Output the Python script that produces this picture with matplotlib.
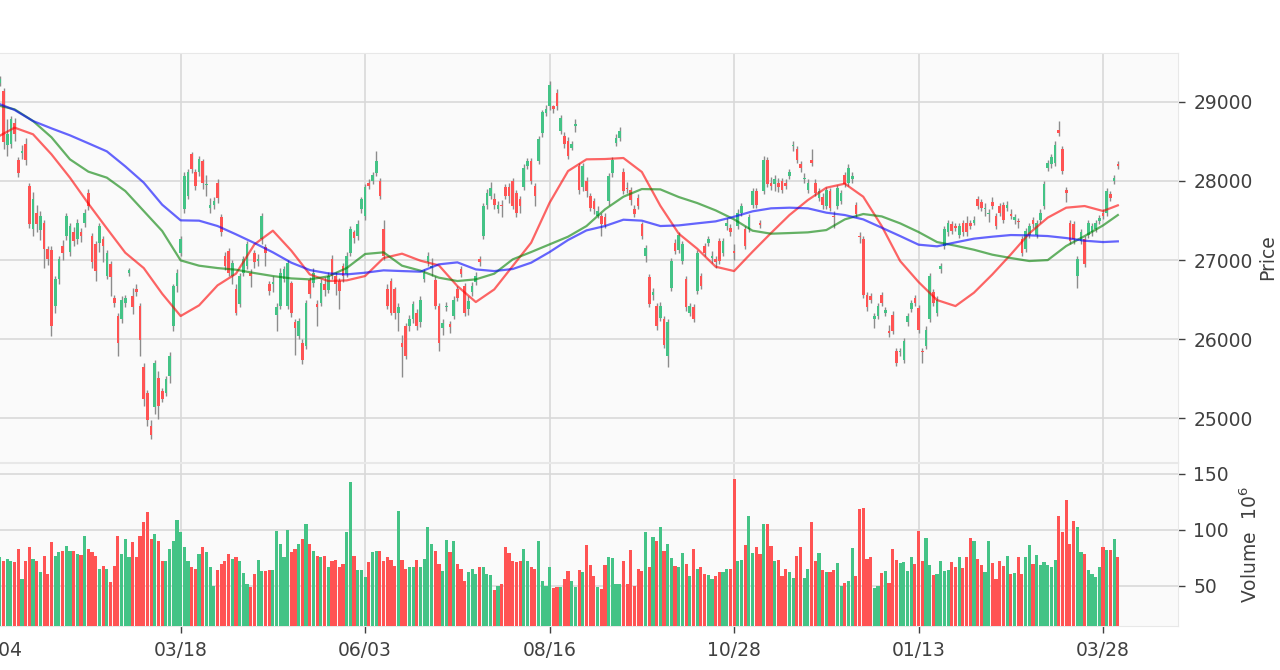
import numpy as np
import matplotlib
matplotlib.use("Agg")
import matplotlib.pyplot as plt


# ============================================================
# Data
# ============================================================

TICK_BARS = [0, 50, 100, 150, 200, 250, 300]
TICK_LABELS = ["01/04", "03/18", "06/03", "08/16", "10/28", "01/13", "03/28"]

PRICE_TICKS = [25000, 26000, 27000, 28000, 29000]
VOLUME_TICKS = [50, 100, 150]

opens = [
    29000, 29240, 29140, 28450, 28470, 28740, 28270, 28350, 28470, 27940,
    27390, 27600, 27380, 27470, 27140, 27130, 26420, 26760, 27180, 27300,
    27100, 27350, 27260, 27350, 27470, 27850, 27300, 27200, 27220, 27260,
    26800, 26950, 26520, 26290, 26250, 26460, 26840, 26540, 26630, 26420,
    25640, 25320, 24900, 25140, 25510, 25340, 25320, 25530, 26160, 26670,
    27090, 27640, 27810, 28340, 28110, 28110, 28250, 27950, 27660, 27690,
    27980, 27540, 27050, 27110, 26800, 26630, 26440, 26840, 26920, 26840,
    27090, 26990, 27260, 27160, 26690, 26700, 26310, 26420, 26760, 26420,
    26710, 26210, 26040, 25950, 25910, 26750, 26710, 26440, 26460, 26700,
    26620, 27010, 26800, 26730, 26920, 26820, 27090, 27350, 27300, 27640,
    27560, 27980, 28000, 28100, 28000, 27390, 26630, 26730, 26630, 26330,
    25950, 26160, 26170, 26250, 26330, 26210, 26760, 26970, 26900, 26750,
    26420, 26140, 26400, 26190, 26290, 26630, 26880, 26670, 26380, 26590,
    26720, 27010, 27300, 27690, 27810, 27770, 27640, 27700, 27920, 27930,
    28000, 27850, 27770, 27920, 28190, 28250, 27940, 28250, 28610, 28860,
    28950, 28950, 29120, 28630, 28570, 28510, 28420, 28700, 28190, 27920,
    28000, 27810, 27750, 27560, 27560, 27550, 27750, 28100, 28480, 28550,
    28120, 27910, 27880, 27640, 27790, 27450, 27050, 26780, 26560, 26420,
    26270, 26250, 25790, 26650, 27220, 27130, 26990, 26760, 26330, 26400,
    26610, 26800, 27180, 27220, 27030, 27010, 27240, 27090, 27430, 27410,
    27110, 27430, 27600, 27390, 27390, 27700, 27870, 27470, 27870, 28270,
    27980, 27960, 27980, 28000, 27980, 28060, 28440, 28400, 28210, 28030,
    27890, 28270, 27980, 27790, 27800, 27680, 27870, 27560, 27680, 27750,
    28080, 27980, 28020, 27700, 27310, 27260, 26560, 26540, 26250, 26290,
    26560, 26330, 26100, 26310, 25850, 25830, 25740, 26210, 26380, 26520,
    26390, 25850, 25910, 26250, 26590, 26330, 26880, 27180, 27350, 27450,
    27430, 27320, 27470, 27470, 27470, 27470, 27770, 27730, 27640, 27580,
    27730, 27560, 27680, 27700, 27660, 27580, 27500, 27490, 27260, 27140,
    27320, 27510, 27320, 27510, 27680, 28170, 28210, 28230, 28650, 28400,
    27890, 27470, 27450, 26800, 27240, 27260, 27320, 27350, 27390, 27490,
    27600, 27600, 27830, 28000, 28210,
]

highs = [
    29250, 29330, 29180, 28780, 28820, 28800, 28300, 28450, 28540, 27980,
    27860, 27700, 27620, 27500, 27180, 27180, 26800, 27050, 27250, 27600,
    27470, 27420, 27520, 27400, 27640, 27900, 27340, 27240, 27470, 27300,
    27130, 26990, 26560, 26330, 26540, 26560, 26900, 26640, 26700, 26450,
    25700, 25360, 24980, 25740, 25600, 25380, 25530, 25830, 26700, 26880,
    27300, 28120, 28150, 28370, 28150, 28320, 28280, 28080, 27780, 27800,
    28020, 27580, 27100, 27150, 27000, 26700, 26840, 27050, 27240, 26880,
    27130, 27080, 27600, 27200, 26730, 26800, 26450, 26900, 26920, 27000,
    26740, 26250, 26270, 26000, 26500, 26790, 26900, 26500, 26760, 26780,
    26850, 27060, 26850, 26770, 26960, 27100, 27430, 27380, 27500, 27800,
    27960, 28020, 28120, 28380, 28040, 27500, 26700, 26770, 26660, 26450,
    26050, 26200, 26300, 26480, 26380, 26540, 26880, 27100, 27020, 26800,
    26450, 26250, 26470, 26230, 26540, 26670, 26920, 26710, 26540, 26720,
    26850, 27050, 27720, 27900, 27990, 27850, 27750, 27760, 27960, 27970,
    28040, 27880, 27810, 28210, 28290, 28290, 27980, 28570, 28900, 28960,
    29260, 28960, 29160, 28840, 28620, 28560, 28510, 28780, 28230, 28230,
    28050, 27850, 27790, 27680, 27590, 27600, 28100, 28300, 28600, 28680,
    28160, 27990, 27920, 27690, 27830, 27480, 27190, 26820, 26640, 26460,
    26470, 26290, 26250, 27030, 27260, 27360, 27240, 26800, 26460, 26440,
    27130, 26840, 27220, 27300, 27120, 27050, 27280, 27280, 27530, 27450,
    27200, 27640, 27720, 27430, 27580, 27910, 27910, 27500, 28320, 28310,
    28050, 28080, 28040, 28040, 28020, 28150, 28500, 28440, 28250, 28100,
    28020, 28400, 28020, 27910, 27850, 27930, 27910, 27620, 27950, 27890,
    28120, 28210, 28110, 27740, 27360, 27300, 26600, 26580, 26330, 26460,
    26600, 26410, 26180, 26350, 25890, 25890, 26010, 26330, 26500, 26560,
    26430, 25890, 26170, 26840, 26630, 26540, 26960, 27430, 27510, 27490,
    27470, 27470, 27510, 27560, 27510, 27560, 27810, 27770, 27720, 27650,
    27800, 27600, 27720, 27740, 27750, 27640, 27580, 27530, 27300, 27410,
    27470, 27550, 27510, 27640, 28000, 28270, 28340, 28500, 28760, 28440,
    27930, 27510, 27490, 27050, 27390, 27300, 27510, 27470, 27510, 27570,
    27640, 27910, 27870, 28080, 28250,
]

lows = [
    28900, 29200, 28400, 28320, 28420, 28500, 28050, 28280, 28200, 27400,
    27300, 27350, 27250, 26900, 26940, 26040, 26330, 26700, 27000, 27250,
    27050, 27180, 27200, 27230, 27420, 27630, 26900, 26730, 27100, 26980,
    26760, 26540, 26400, 25790, 26200, 26400, 26800, 26320, 26540, 25780,
    25150, 24900, 24730, 25050, 24990, 25200, 25280, 25440, 26100, 26600,
    27050, 27600, 27770, 28100, 27880, 28060, 27900, 27810, 27600, 27650,
    27720, 27300, 26870, 26800, 26700, 26300, 26400, 26800, 26880, 26660,
    26900, 26920, 27200, 26920, 26560, 26600, 26100, 26380, 26720, 26380,
    26280, 25800, 26000, 25680, 25870, 26520, 26660, 26170, 26420, 26550,
    26580, 26760, 26560, 26380, 26720, 26780, 27050, 27220, 27250, 27600,
    27500, 27900, 27960, 28060, 27770, 27000, 26380, 26300, 26250, 26100,
    25520, 25750, 26100, 26200, 26120, 26150, 26720, 26930, 26800, 26380,
    25850, 26050, 26350, 26080, 26250, 26480, 26780, 26290, 26300, 26550,
    26680, 26920, 27260, 27650, 27770, 27650, 27600, 27540, 27770, 27720,
    27640, 27540, 27600, 27880, 28150, 27960, 27680, 28220, 28560, 28820,
    28900, 28860, 28900, 28600, 28420, 28280, 28390, 28620, 27840, 27870,
    27800, 27620, 27580, 27530, 27300, 27400, 27700, 28050, 28440, 28500,
    27830, 27850, 27700, 27540, 27640, 27260, 26980, 26400, 26500, 26120,
    26230, 25880, 25640, 26610, 27070, 27090, 26950, 26360, 26290, 26210,
    26570, 26630, 27050, 27180, 26960, 26900, 26950, 27050, 27380, 27300,
    27000, 27390, 27560, 27140, 27350, 27660, 27660, 27400, 27830, 27920,
    27880, 27870, 27860, 27850, 27900, 28020, 28380, 28230, 28120, 27980,
    27850, 28190, 27810, 27750, 27650, 27640, 27620, 27400, 27640, 27710,
    27920, 27940, 27980, 27540, 27220, 26520, 26360, 26460, 26140, 26250,
    26420, 26290, 26020, 26060, 25660, 25790, 25700, 26170, 26340, 26420,
    26080, 25700, 25870, 26210, 26420, 26290, 26840, 27140, 27310, 27330,
    27370, 27280, 27310, 27300, 27390, 27440, 27640, 27620, 27560, 27480,
    27640, 27390, 27560, 27470, 27620, 27520, 27460, 27400, 27050, 27100,
    27280, 27410, 27280, 27470, 27640, 28130, 28170, 28190, 28570, 28090,
    27740, 27200, 27200, 26650, 27200, 26910, 27280, 27310, 27350, 27450,
    27520, 27560, 27750, 27960, 28150,
]

closes = [
    29150, 29290, 28490, 28600, 28780, 28600, 28100, 28380, 28260, 27450,
    27770, 27450, 27560, 27140, 27010, 26160, 26760, 27010, 27090, 27560,
    27430, 27240, 27470, 27300, 27600, 27680, 26970, 26860, 27430, 27180,
    27090, 26790, 26460, 25950, 26500, 26520, 26870, 26400, 26590, 25990,
    25240, 24980, 24790, 25700, 25150, 25240, 25490, 25780, 26670, 26840,
    27260, 28060, 28110, 28150, 27940, 28280, 27980, 27960, 27700, 27750,
    27790, 27350, 26920, 26840, 26960, 26330, 26800, 27010, 27200, 26800,
    26970, 27010, 27560, 27090, 26610, 26720, 26400, 26840, 26880, 26960,
    26330, 26140, 26230, 25740, 26460, 26570, 26840, 26400, 26710, 26620,
    26800, 26800, 26700, 26610, 26800, 27050, 27390, 27280, 27450, 27770,
    27920, 27940, 28080, 28250, 27810, 27050, 26420, 26330, 26330, 26400,
    25900, 25790, 26250, 26440, 26160, 26500, 26840, 27050, 26920, 26420,
    25950, 26200, 26420, 26150, 26500, 26520, 26820, 26330, 26480, 26670,
    26800, 26970, 27680, 27850, 27910, 27700, 27700, 27680, 27810, 27810,
    27680, 27600, 27680, 28170, 28250, 28000, 27810, 28530, 28870, 28910,
    29220, 28910, 28950, 28800, 28470, 28320, 28470, 28720, 27890, 28190,
    27870, 27660, 27640, 27620, 27450, 27440, 28060, 28260, 28550, 28630,
    27870, 27900, 27760, 27580, 27680, 27300, 27150, 26440, 26590, 26160,
    26420, 25930, 26210, 26990, 27110, 27320, 27200, 26400, 26420, 26250,
    27090, 26670, 27090, 27260, 27050, 26970, 26990, 27240, 27470, 27350,
    27090, 27600, 27680, 27180, 27540, 27870, 27700, 27440, 28270, 27960,
    27940, 28020, 27920, 27890, 27940, 28110, 28460, 28270, 28170, 28040,
    27980, 28230, 27850, 27870, 27700, 27890, 27660, 27540, 27910, 27850,
    27960, 28170, 28060, 27580, 27290, 26560, 26400, 26500, 26290, 26420,
    26460, 26370, 26080, 26100, 25700, 25850, 25970, 26290, 26460, 26460,
    26120, 25830, 26120, 26800, 26460, 26500, 26920, 27390, 27470, 27370,
    27410, 27430, 27350, 27350, 27430, 27510, 27680, 27660, 27660, 27590,
    27680, 27430, 27600, 27510, 27700, 27560, 27540, 27480, 27090, 27370,
    27430, 27450, 27470, 27600, 27960, 28230, 28300, 28460, 28610, 28130,
    27850, 27240, 27260, 27010, 27350, 26950, 27470, 27430, 27470, 27530,
    27560, 27870, 27790, 28040, 28190,
]

# volume in millions
volumes = [
    75.0, 75.3, 72.3, 73.8, 72.3, 70.8, 82.7, 56.0, 72.3, 84.2,
    73.8, 72.3, 61.9, 76.8, 60.4, 89.3, 76.8, 79.8, 81.3, 85.7,
    81.3, 80.7, 78.3, 77.4, 94.6, 82.7, 79.8, 76.8, 64.9, 67.9,
    64.9, 53.0, 67.9, 94.6, 78.3, 91.7, 75.3, 88.7, 75.3, 94.6,
    106.5, 115.5, 91.7, 96.1, 90.2, 72.3, 72.3, 82.7, 90.2, 108.6,
    97.6, 84.2, 72.3, 67.0, 64.9, 78.3, 84.8, 79.8, 66.4, 50.0,
    64.0, 69.3, 72.3, 78.3, 73.8, 75.3, 72.3, 61.0, 51.5, 49.1,
    60.4, 72.9, 63.4, 63.4, 64.0, 64.0, 98.5, 87.2, 75.9, 99.7,
    79.8, 82.7, 87.2, 91.7, 105.0, 87.2, 81.3, 76.8, 75.3, 76.8,
    66.4, 72.3, 73.2, 66.4, 69.3, 97.6, 142.3, 76.8, 64.0, 64.0,
    57.4, 70.8, 79.8, 80.7, 81.3, 72.3, 75.3, 72.9, 67.9, 117.0,
    72.9, 64.9, 66.4, 66.4, 72.9, 66.4, 73.8, 102.1, 87.2, 81.3,
    69.3, 63.4, 90.8, 79.8, 89.6, 69.3, 64.9, 54.5, 61.9, 64.9,
    60.4, 66.4, 66.4, 60.4, 59.8, 46.1, 50.0, 51.5, 84.2, 79.2,
    72.3, 70.8, 72.3, 82.7, 72.3, 66.4, 64.9, 89.6, 53.9, 50.0,
    66.4, 47.6, 48.5, 49.1, 56.0, 62.8, 53.9, 49.1, 64.0, 61.9,
    86.6, 68.8, 58.9, 48.5, 47.0, 68.8, 75.3, 74.7, 51.5, 51.5,
    71.7, 51.5, 81.8, 50.0, 64.9, 62.8, 97.6, 66.4, 93.2, 90.2,
    102.1, 81.3, 87.2, 74.4, 67.9, 66.4, 78.9, 69.3, 58.9, 82.7,
    64.9, 66.4, 60.4, 59.8, 56.0, 58.9, 61.9, 61.9, 64.9, 64.9,
    145.2, 72.3, 72.9, 86.6, 112.5, 78.9, 84.2, 78.3, 105.0, 105.0,
    85.7, 72.3, 72.9, 58.9, 64.9, 61.9, 56.8, 76.8, 84.2, 56.8,
    64.9, 107.1, 71.7, 78.9, 64.0, 61.9, 61.9, 64.0, 69.9, 50.0,
    52.1, 54.5, 83.6, 58.9, 118.5, 119.3, 73.8, 75.3, 47.9, 50.0,
    61.0, 62.8, 52.1, 82.7, 72.9, 69.9, 70.8, 63.4, 75.9, 69.3,
    98.5, 71.7, 92.6, 68.8, 59.8, 60.4, 71.7, 63.4, 64.0, 70.8,
    66.4, 75.3, 65.8, 75.3, 92.6, 89.6, 73.8, 68.8, 61.9, 89.6,
    69.9, 56.0, 72.3, 67.9, 76.8, 60.4, 61.0, 75.3, 60.4, 75.9,
    86.6, 69.3, 77.7, 68.8, 70.8, 68.8, 67.0, 72.9, 112.5, 97.6,
    126.5, 87.2, 107.4, 102.1, 79.8, 78.3, 64.0, 60.4, 57.4, 66.4,
    84.2, 81.8, 81.8, 91.7, 75.3,
]

# moving averages, sampled every 5 bars (plus the last bar)
ma_bars = list(range(0, 301, 5)) + [304]

ma_fast = [
    28548, 28675, 28591, 28337, 28042, 27713, 27400, 27092, 26898, 26573,
    26291, 26426, 26679, 26827, 27198, 27371, 27118, 26818, 26734, 26742,
    26797, 27025, 27080, 26991, 26932, 26670, 26468, 26628, 26924, 27219,
    27725, 28126, 28274, 28278, 28291, 28114, 27687, 27333, 27143, 26915,
    26860, 27105, 27341, 27569, 27759, 27915, 27966, 27801, 27430, 26987,
    26721, 26493, 26417, 26586, 26818, 27071, 27337, 27536, 27662, 27683,
    27620, 27692,
]

ma_mid = [
    28962, 28907, 28759, 28553, 28274, 28118, 28042, 27873, 27620, 27367,
    26995, 26928, 26898, 26877, 26835, 26797, 26767, 26755, 26793, 26898,
    27076, 27097, 26928, 26865, 26776, 26734, 26755, 26827, 27008, 27101,
    27198, 27295, 27430, 27641, 27801, 27898, 27894, 27797, 27721, 27628,
    27514, 27371, 27333, 27341, 27350, 27379, 27514, 27582, 27552, 27464,
    27354, 27227, 27181, 27130, 27067, 27025, 26987, 26999, 27177, 27303,
    27438, 27569,
]

ma_slow = [
    28991, 28899, 28759, 28666, 28578, 28477, 28375, 28185, 27979, 27700,
    27502, 27498, 27430, 27325, 27215, 27097, 26966, 26873, 26831, 26818,
    26839, 26869, 26860, 26852, 26945, 26970, 26881, 26860, 26886, 26966,
    27101, 27253, 27375, 27430, 27510, 27498, 27430, 27438, 27464, 27489,
    27548, 27616, 27654, 27662, 27654, 27599, 27569, 27514, 27409, 27303,
    27194, 27173, 27223, 27270, 27295, 27316, 27312, 27303, 27278, 27244,
    27227, 27236,
]


# ============================================================
# Style
# ============================================================

UP_COLOR = "#44c386"
DOWN_COLOR = "#ff5353"
WICK_COLOR = "#8c8c8c"
FACE_COLOR = "#fafafa"
GRID_COLOR = "#d9d9d9"
TEXT_COLOR = "#404040"
FONT_SIZE = 13.5


def style_axis(ax):
    ax.set_facecolor(FACE_COLOR)
    ax.grid(True, color=GRID_COLOR, linewidth=1.2)
    ax.set_axisbelow(True)
    for spine in ax.spines.values():
        spine.set_color("#e8e8e8")
    ax.yaxis.tick_right()
    ax.yaxis.set_label_position("right")
    ax.tick_params(axis="both", labelsize=FONT_SIZE, colors=TEXT_COLOR,
                   length=5, width=1, pad=6)


def main():
    o = np.array(opens, dtype=float)
    h = np.array(highs, dtype=float)
    l = np.array(lows, dtype=float)
    c = np.array(closes, dtype=float)
    v = np.array(volumes, dtype=float)
    x = np.arange(len(o))

    up = c >= o
    colors = np.where(up, UP_COLOR, DOWN_COLOR)

    fig = plt.figure(figsize=(12.8, 6.7), dpi=100)
    ax_p = fig.add_axes([-0.05, 0.3104, 0.9703, 0.6105])
    ax_v = fig.add_axes([-0.05, 0.0657, 0.9703, 0.2433], sharex=ax_p)

    # price panel
    body_lo = np.minimum(o, c)
    body_hi = np.maximum(o, c)
    ax_p.vlines(x, np.minimum(l, body_lo), np.maximum(h, body_hi),
                color=WICK_COLOR, linewidth=1, zorder=2)
    ax_p.bar(x, np.maximum(body_hi - body_lo, 14), bottom=body_lo,
             width=0.72, color=colors, linewidth=0, zorder=3)

    ax_p.plot(ma_bars, ma_fast, color="#ff0000", alpha=0.6, linewidth=1.6, zorder=4)
    ax_p.plot(ma_bars, ma_mid, color="#008000", alpha=0.6, linewidth=1.6, zorder=4)
    ax_p.plot(ma_bars, ma_slow, color="#0000ff", alpha=0.6, linewidth=1.6, zorder=4)

    style_axis(ax_p)
    ax_p.set_ylim(24443, 29620)
    ax_p.set_yticks(PRICE_TICKS)
    ax_p.set_ylabel("Price", fontsize=FONT_SIZE, color=TEXT_COLOR, labelpad=4)
    ax_p.tick_params(axis="x", length=0, labelbottom=False)

    # volume panel
    ax_v.bar(x, v, width=0.86, color=colors, linewidth=0, zorder=3)
    style_axis(ax_v)
    ax_v.set_ylim(0.3 * v.min(), 1.1 * v.max())
    ax_v.set_yticks(VOLUME_TICKS)
    ax_v.set_ylabel("Volume  $10^6$", fontsize=FONT_SIZE, color=TEXT_COLOR, labelpad=8)

    ax_v.set_xticks(TICK_BARS)
    ax_v.set_xticklabels(TICK_LABELS)
    ax_v.set_xlim(-16.3, 320.3)

    fig.savefig("out.png", dpi=100, facecolor="white")
    plt.close(fig)


if __name__ == "__main__":
    main()
